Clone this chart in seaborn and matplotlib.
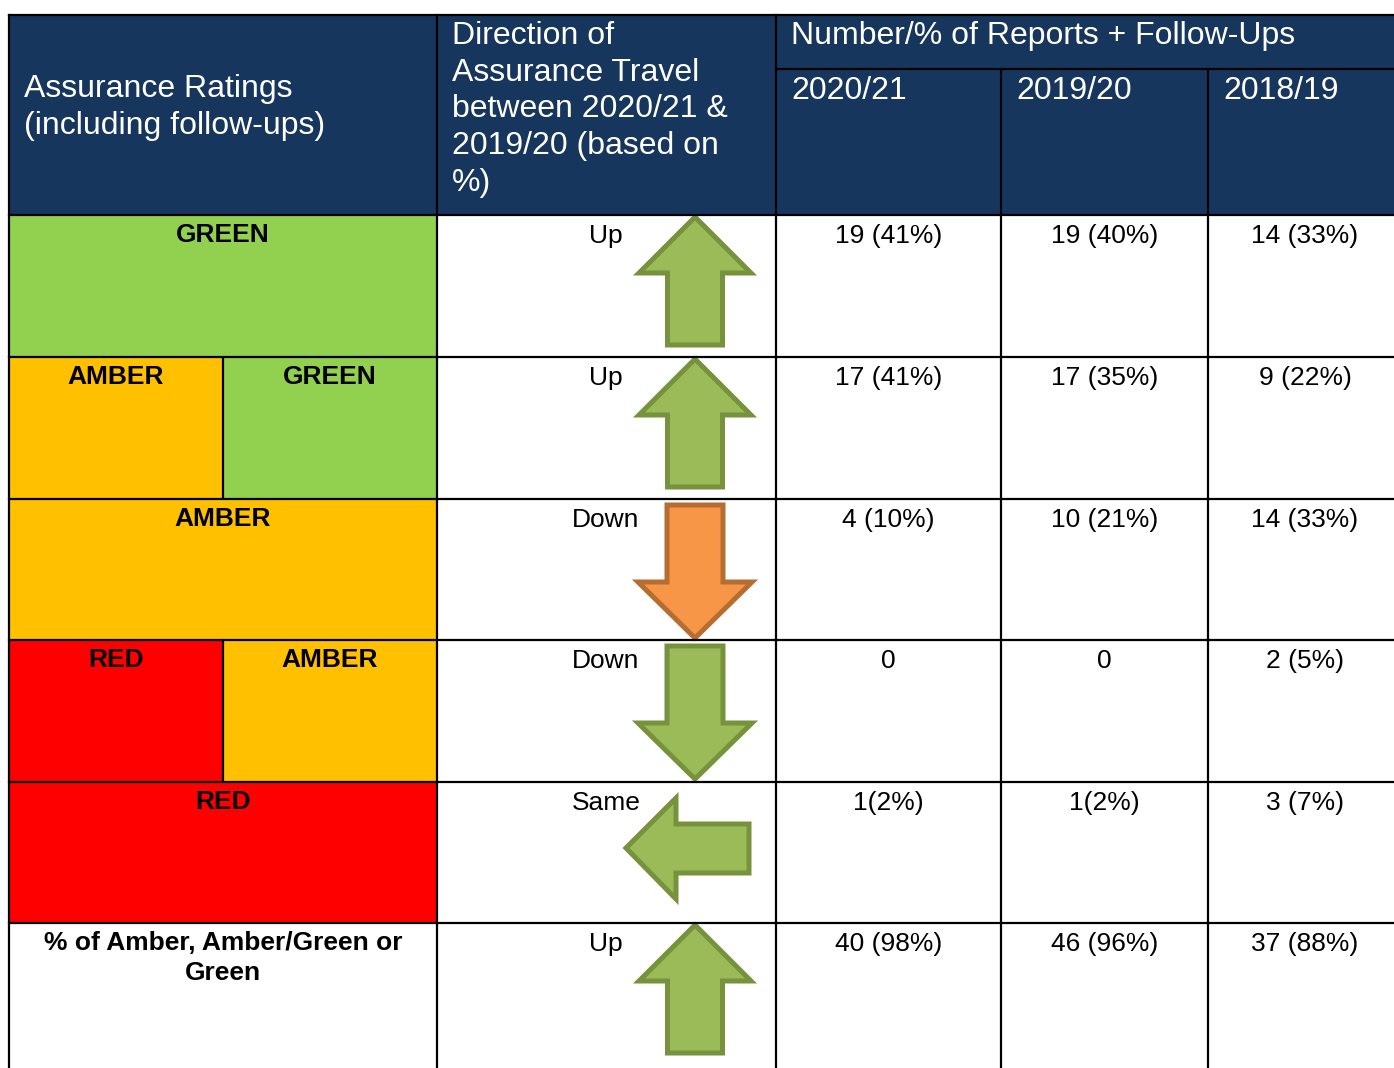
import matplotlib.pyplot as plt
import seaborn as sns
from matplotlib.patches import Rectangle, Polygon

sns.set_theme(style="white")
plt.rcParams['font.family'] = ['Liberation Sans', 'DejaVu Sans']

# table content
header_rating = "Assurance Ratings\n(including follow-ups)"
header_direction = "Direction of\nAssurance Travel\nbetween 2020/21 &\n2019/20 (based on\n%)"
header_numbers = "Number/% of Reports + Follow-Ups"
years = ["2020/21", "2019/20", "2018/19"]

ratings = [["GREEN"], ["AMBER", "GREEN"], ["AMBER"], ["RED", "AMBER"], ["RED"],
           ["% of Amber, Amber/Green or\nGreen"]]
rating_colors = [["#92D050"], ["#FFC000", "#92D050"], ["#FFC000"], ["#FF0000", "#FFC000"],
                 ["#FF0000"], ["white"]]
directions = ["Up", "Up", "Down", "Down", "Same", "Up"]
arrow_kind = ["up", "up", "down", "down", "left", "up"]
arrow_good = [True, True, False, True, True, True]

vals_2021 = ["19 (41%)", "17 (41%)", "4 (10%)", "0", "1(2%)", "40 (98%)"]
vals_1920 = ["19 (40%)", "17 (35%)", "10 (21%)", "0", "1(2%)", "46 (96%)"]
vals_1819 = ["14 (33%)", "9 (22%)", "14 (33%)", "2 (5%)", "3 (7%)", "37 (88%)"]

# layout (pixel units)
col_edges = [9, 437, 776, 1001, 1208, 1402]
sub_split = 223
top, head_bot, year_line = 15, 215, 69
row_edges = [215, 357, 499, 640, 782, 923, 1068]
navy = "#17365D"
lw = 1.6
body_fs = 19
head_fs = 23

fig = plt.figure(figsize=(13.94, 10.68), dpi=100)
ax = fig.add_axes([0, 0, 1, 1])
ax.set_xlim(0, 1394)
ax.set_ylim(1068, 0)
ax.axis('off')

# header background
ax.add_patch(Rectangle((col_edges[0], top), col_edges[-1] - col_edges[0], head_bot - top,
                       facecolor=navy, edgecolor='none'))

# rating cells
for r, (labs, cols) in enumerate(zip(ratings, rating_colors)):
    y0, y1 = row_edges[r], row_edges[r + 1]
    if len(labs) == 1:
        spans = [(col_edges[0], col_edges[1])]
    else:
        spans = [(col_edges[0], sub_split), (sub_split, col_edges[1])]
    for (x0, x1), lab, c in zip(spans, labs, cols):
        ax.add_patch(Rectangle((x0, y0), x1 - x0, y1 - y0, facecolor=c, edgecolor='none'))
        ax.text((x0 + x1) / 2, y0 + 8, lab, ha='center', va='top', fontsize=body_fs,
                fontweight='bold', color='black', linespacing=1.3)


def arrow_poly(kind, cx, y0):
    if kind == "up":
        pts = [(cx, y0 + 2), (cx + 56, y0 + 58), (cx + 27.5, y0 + 58), (cx + 27.5, y0 + 130),
               (cx - 27.5, y0 + 130), (cx - 27.5, y0 + 58), (cx - 56, y0 + 58)]
    elif kind == "down":
        pts = [(cx - 28, y0 + 6), (cx + 28, y0 + 6), (cx + 28, y0 + 83), (cx + 57, y0 + 83),
               (cx, y0 + 139), (cx - 57, y0 + 83), (cx - 28, y0 + 83)]
    else:
        pts = [(626, y0 + 66), (676, y0 + 16), (676, y0 + 42), (749, y0 + 42),
               (749, y0 + 91), (676, y0 + 91), (676, y0 + 117)]
    return pts


for r, (d, k, good) in enumerate(zip(directions, arrow_kind, arrow_good)):
    y0 = row_edges[r]
    ax.text(606, y0 + 9, d, ha='center', va='top', fontsize=body_fs, color='black')
    fc, ec = ("#9BBB59", "#76923C") if good else ("#F79646", "#B66D31")
    ax.add_patch(Polygon(arrow_poly(k, 695, y0), closed=True, facecolor=fc,
                         edgecolor=ec, linewidth=3.6, joinstyle='miter'))

for c, series in enumerate([vals_2021, vals_1920, vals_1819]):
    cx = (col_edges[c + 2] + col_edges[c + 3]) / 2
    for r, v in enumerate(series):
        ax.text(cx, row_edges[r] + 9, v, ha='center', va='top', fontsize=body_fs, color='black')

# header text
ax.text(24, 74, header_rating, ha='left', va='top', fontsize=head_fs, color='white', linespacing=1.29)
ax.text(452, 21, header_direction, ha='left', va='top', fontsize=head_fs, color='white', linespacing=1.29)
ax.text(791, 21, header_numbers, ha='left', va='top', fontsize=head_fs, color='white')
for i, y in enumerate(years):
    ax.text(col_edges[i + 2] + 15, 76, y, ha='left', va='top', fontsize=head_fs, color='white')

# grid lines
for y in [top, head_bot] + row_edges[1:-1]:
    ax.plot([col_edges[0], col_edges[-1]], [y, y], color='black', lw=lw, solid_capstyle='projecting')
ax.plot([col_edges[2], col_edges[-1]], [year_line, year_line], color='black', lw=lw)
for x in col_edges[:3]:
    ax.plot([x, x], [top, 1068], color='black', lw=lw, solid_capstyle='projecting')
for x in col_edges[3:5]:
    ax.plot([x, x], [year_line, 1068], color='black', lw=lw)
for r, labs in enumerate(ratings):
    if len(labs) == 2:
        ax.plot([sub_split, sub_split], [row_edges[r], row_edges[r + 1]], color='black', lw=lw)

fig.savefig("out.png", dpi=100, facecolor='white')
